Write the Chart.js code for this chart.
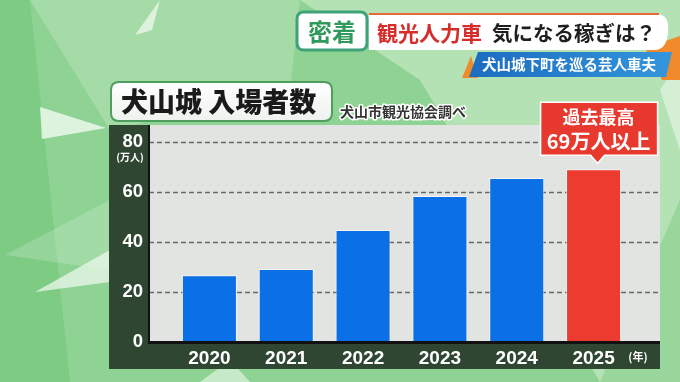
<!DOCTYPE html>
<html>
<head>
<meta charset="utf-8">
<script src="https://cdn.jsdelivr.net/npm/chart.js@4.4.1/dist/chart.umd.min.js"></script>
<style>
  html, body { margin: 0; padding: 0; overflow: hidden; background: #8ed393; }
  canvas { display: block; }
</style>
</head>
<body>
<canvas id="chart" width="680" height="382"></canvas>
<script>
// data (万人)
const years = ['2020', '2021', '2022', '2023', '2024', '2025'];
const visitors = [26.7, 29.2, 44.8, 58.4, 65.6, 69.1];
const yTicks = [0, 20, 40, 60, 80];

// texts
const chartTitle = '犬山城 入場者数';
const sourceNote = '犬山市観光協会調べ';
const yUnit = '(万人)';
const xUnit = '(年)';
const calloutLines = ['過去最高', '69万人以上'];
const headerTag = '密着';
const headerRed = '観光人力車';
const headerBlack = '気になる稼ぎは？';
const headerSub = '犬山城下町を巡る芸人車夫';

const JP = '"Noto Sans CJK JP", sans-serif';
const NUM = '"Liberation Sans", Arial, sans-serif';
const BLUE = '#0b6fe6';
const RED = '#ee3b30';

function roundRect(ctx, x, y, w, h, r) {
  ctx.beginPath();
  ctx.moveTo(x + r, y);
  ctx.lineTo(x + w - r, y);
  ctx.quadraticCurveTo(x + w, y, x + w, y + r);
  ctx.lineTo(x + w, y + h - r);
  ctx.quadraticCurveTo(x + w, y + h, x + w - r, y + h);
  ctx.lineTo(x + r, y + h);
  ctx.quadraticCurveTo(x, y + h, x, y + h - r);
  ctx.lineTo(x, y + r);
  ctx.quadraticCurveTo(x, y, x + r, y);
  ctx.closePath();
}

function poly(ctx, pts, fill) {
  ctx.beginPath();
  ctx.moveTo(pts[0][0], pts[0][1]);
  for (let i = 1; i < pts.length; i++) ctx.lineTo(pts[i][0], pts[i][1]);
  ctx.closePath();
  ctx.fillStyle = fill;
  ctx.fill();
}

// green polygon backdrop, banners and the chart panel
const backdrop = {
  id: 'backdrop',
  beforeDraw(chart) {
    const ctx = chart.ctx;
    const W = chart.width, H = chart.height;
    ctx.save();
    ctx.fillStyle = '#8ed393';
    ctx.fillRect(0, 0, W, H);
    poly(ctx, [[0, 0], [30, 0], [70, 382], [0, 382]], '#7ecb84');
    poly(ctx, [[30, 0], [300, 0], [290, 90], [110, 130]], '#a5dba7');
    poly(ctx, [[300, 0], [680, 0], [680, 382], [600, 382], [420, 80]], '#b4e2b5');
    poly(ctx, [[600, 382], [680, 200], [680, 382]], '#98d69c');
    poly(ctx, [[40, 107], [106, 128], [42, 139]], 'rgba(235,248,235,0.85)');
    poly(ctx, [[5, 255], [110, 200], [110, 270]], 'rgba(255,255,255,0.18)');
    poly(ctx, [[35, 292], [110, 250], [110, 282]], 'rgba(235,248,235,0.75)');
    poly(ctx, [[135, 35], [160, 0], [152, 30]], 'rgba(235,248,235,0.8)');
    poly(ctx, [[660, 90], [680, 60], [680, 150]], 'rgba(235,248,235,0.6)');
    poly(ctx, [[200, 382], [230, 360], [250, 382]], 'rgba(235,248,235,0.6)');

    // header: tag box
    roundRect(ctx, 297, 12, 70, 38, 7);
    ctx.fillStyle = '#ffffff';
    ctx.fill();
    ctx.lineWidth = 3;
    ctx.strokeStyle = '#3fa37a';
    ctx.stroke();
    ctx.font = 'bold 24px ' + JP;
    ctx.fillStyle = '#2f9a5c';
    ctx.textAlign = 'center';
    ctx.textBaseline = 'middle';
    ctx.fillText(headerTag, 332, 32);

    // orange accents
    poly(ctx, [[645, 48], [680, 36], [680, 80], [662, 80]], '#f08a2a');
    poly(ctx, [[462, 78], [471, 56], [478, 78]], '#f08a2a');

    // white banner
    ctx.beginPath();
    ctx.moveTo(369, 14);
    ctx.lineTo(656, 14);
    ctx.quadraticCurveTo(670, 14, 668, 32);
    ctx.quadraticCurveTo(667, 50, 654, 50);
    ctx.lineTo(369, 50);
    ctx.closePath();
    ctx.fillStyle = '#ffffff';
    ctx.fill();
    ctx.fillStyle = '#ea6a35';
    ctx.fillRect(369, 13, 290, 2);

    ctx.textAlign = 'left';
    ctx.font = 'bold 21px ' + JP;
    ctx.fillStyle = '#d72d2a';
    ctx.fillText(headerRed, 377, 33);
    ctx.font = 'bold 20.5px ' + JP;
    ctx.fillStyle = '#1e1e1e';
    ctx.fillText(headerBlack, 492, 33);

    // blue sub banner
    const g = ctx.createLinearGradient(470, 0, 672, 0);
    g.addColorStop(0, '#1c6cc0');
    g.addColorStop(1, '#3496dc');
    poly(ctx, [[478, 52], [672, 52], [666, 77], [469, 77]], g);
    ctx.font = 'bold 14.5px ' + JP;
    ctx.fillStyle = '#ffffff';
    ctx.textAlign = 'center';
    ctx.fillText(headerSub, 569, 64.5);

    // chart panel
    const area = chart.chartArea;
    const y = chart.scales.y;
    const plotL = area.left - 22, plotR = area.right + 28, plotT = area.top - 17;
    const panelL = area.left - 62, panelB = area.bottom + 27;
    ctx.fillStyle = '#2f4632';
    ctx.fillRect(panelL, plotT, plotR - panelL, panelB - plotT);
    ctx.fillStyle = '#e2e4e2';
    ctx.fillRect(plotL, plotT, plotR - plotL, area.bottom - plotT);

    // dashed grid
    ctx.strokeStyle = '#666866';
    ctx.lineWidth = 1.3;
    ctx.setLineDash([5, 3]);
    yTicks.forEach(v => {
      if (v === 0) return;
      const py = Math.round(y.getPixelForValue(v)) + 0.5;
      ctx.beginPath();
      ctx.moveTo(plotL, py);
      ctx.lineTo(plotR, py);
      ctx.stroke();
    });
    ctx.setLineDash([]);

    // title box
    roundRect(ctx, 111, 82, 221, 39, 8);
    const tg = ctx.createLinearGradient(0, 82, 0, 121);
    tg.addColorStop(0, '#ffffff');
    tg.addColorStop(1, '#eef2ee');
    ctx.fillStyle = tg;
    ctx.fill();
    ctx.lineWidth = 2;
    ctx.strokeStyle = '#4f9e5e';
    ctx.stroke();
    ctx.font = '900 27px ' + JP;
    ctx.fillStyle = '#1a1a1a';
    ctx.textAlign = 'left';
    ctx.fillText(chartTitle, 121, 102);

    ctx.font = 'bold 14px ' + JP;
    ctx.lineJoin = 'round';
    ctx.lineWidth = 3;
    ctx.strokeStyle = '#ffffff';
    ctx.strokeText(sourceNote, 340, 112);
    ctx.fillStyle = '#333333';
    ctx.fillText(sourceNote, 340, 112);
    ctx.restore();
  },
  afterDatasetsDraw(chart) {
    const ctx = chart.ctx;
    const area = chart.chartArea;
    const y = chart.scales.y;
    const plotL = area.left - 22, plotR = area.right + 28, plotT = area.top - 17;
    ctx.save();
    // axis lines
    ctx.fillStyle = '#111111';
    ctx.fillRect(plotL - 1, plotT, 2, area.bottom - plotT);
    ctx.fillRect(plotL - 1, area.bottom - 1, plotR - plotL + 1, 3);

    // unit labels
    ctx.fillStyle = '#ffffff';
    ctx.textAlign = 'center';
    ctx.textBaseline = 'middle';
    ctx.font = 'bold 10px ' + JP;
    ctx.fillText(yUnit, area.left - 41, y.getPixelForValue(80) + 15);
    ctx.font = 'bold 11px ' + JP;
    ctx.fillText(xUnit, area.right + 6, area.bottom + 15);

    // callout above the last bar
    const bar = chart.getDatasetMeta(0).data[years.length - 1];
    const cx = bar.x + 5, tipY = bar.y - 6;
    const bx = cx - 58, bw = 117, bt = tipY - 61, bh = 53;
    ctx.beginPath();
    ctx.moveTo(bx, bt);
    ctx.lineTo(bx + bw, bt);
    ctx.lineTo(bx + bw, bt + bh);
    ctx.lineTo(cx + 6, bt + bh);
    ctx.lineTo(cx - 1, tipY);
    ctx.lineTo(cx - 8, bt + bh);
    ctx.lineTo(bx, bt + bh);
    ctx.closePath();
    ctx.fillStyle = '#e8392f';
    ctx.fill();
    ctx.lineWidth = 1.5;
    ctx.strokeStyle = '#ffffff';
    ctx.stroke();
    ctx.fillStyle = '#ffffff';
    ctx.font = 'bold 18px ' + JP;
    ctx.fillText(calloutLines[0], cx, bt + 15);
    ctx.font = 'bold 20px ' + JP;
    ctx.fillText(calloutLines[1], cx, bt + 39);
    ctx.restore();
  }
};

new Chart(document.getElementById('chart'), {
  type: 'bar',
  data: {
    labels: years,
    datasets: [{
      data: visitors,
      backgroundColor: years.map((_, i) => i === years.length - 1 ? RED : BLUE),
      borderColor: 'rgba(255,255,255,0.6)',
      borderWidth: 1,
      borderSkipped: 'bottom',
      categoryPercentage: 1,
      barPercentage: 0.716
    }]
  },
  options: {
    responsive: false,
    animation: false,
    devicePixelRatio: 1,
    layout: { padding: { top: 142, right: 48, bottom: 0, left: 0 } },
    plugins: { legend: { display: false }, tooltip: { enabled: false } },
    scales: {
      x: {
        grid: { display: false, drawTicks: false },
        border: { display: false },
        afterFit: s => { s.height = 40; },
        ticks: {
          color: '#ffffff',
          padding: 5,
          font: { family: NUM, size: 19, weight: 'bold' }
        }
      },
      y: {
        min: 0,
        max: 80,
        grid: { display: false, drawTicks: false },
        border: { display: false },
        afterFit: s => { s.width = 171; },
        afterBuildTicks: s => { s.ticks = yTicks.map(v => ({ value: v })); },
        ticks: {
          color: '#ffffff',
          padding: 28,
          font: { family: NUM, size: 18.5, weight: 'bold' }
        }
      }
    }
  },
  plugins: [backdrop]
});
</script>
</body>
</html>
